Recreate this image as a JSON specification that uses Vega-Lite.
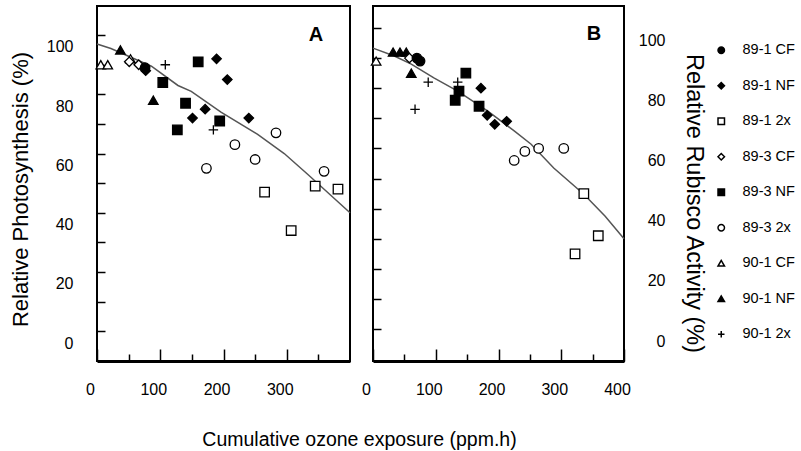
{
  "$schema": "https://vega.github.io/schema/vega-lite/v6.json",
  "padding": {"left": 8, "top": 5, "right": 0, "bottom": 0},
  "background": "white",
  "config": {
    "view": {"stroke": "black", "strokeWidth": 2},
    "font": "Liberation Sans",
    "axis": {"grid": false, "labelColor": "black", "titleColor": "black", "tickColor": "black", "domainColor": "black", "titleFontWeight": "normal"}
  },
  "datasets": {
    "pointsA": [
      {"x": 6, "y": 94, "series": "90-1 CF"}, {"x": 17, "y": 94, "series": "90-1 CF"}, {"x": 53, "y": 96, "series": "90-1 CF"},
      {"x": 37, "y": 99, "series": "90-1 NF"}, {"x": 89, "y": 82, "series": "90-1 NF"},
      {"x": 51, "y": 95, "series": "89-3 CF"}, {"x": 66, "y": 94, "series": "89-3 CF"},
      {"x": 76, "y": 93, "series": "89-1 CF"},
      {"x": 77, "y": 92, "series": "89-1 NF"}, {"x": 189, "y": 96, "series": "89-1 NF"}, {"x": 206, "y": 89, "series": "89-1 NF"}, {"x": 171, "y": 79, "series": "89-1 NF"}, {"x": 151, "y": 76, "series": "89-1 NF"}, {"x": 240, "y": 76, "series": "89-1 NF"},
      {"x": 108, "y": 94, "series": "90-1 2x"}, {"x": 184, "y": 72, "series": "90-1 2x"},
      {"x": 104, "y": 88, "series": "89-3 NF"}, {"x": 160, "y": 95, "series": "89-3 NF"}, {"x": 140, "y": 81, "series": "89-3 NF"}, {"x": 127, "y": 72, "series": "89-3 NF"}, {"x": 194, "y": 75, "series": "89-3 NF"},
      {"x": 173, "y": 59, "series": "89-3 2x"}, {"x": 218, "y": 67, "series": "89-3 2x"}, {"x": 250, "y": 62, "series": "89-3 2x"}, {"x": 283, "y": 71, "series": "89-3 2x"}, {"x": 359, "y": 58, "series": "89-3 2x"},
      {"x": 265, "y": 51, "series": "89-1 2x"}, {"x": 307, "y": 38, "series": "89-1 2x"}, {"x": 345, "y": 53, "series": "89-1 2x"}, {"x": 381, "y": 52, "series": "89-1 2x"}
    ],
    "pointsB": [
      {"x": 5, "y": 93, "series": "90-1 CF"},
      {"x": 32, "y": 96, "series": "90-1 NF"}, {"x": 43, "y": 96, "series": "90-1 NF"}, {"x": 53, "y": 96, "series": "90-1 NF"}, {"x": 61, "y": 89, "series": "90-1 NF"},
      {"x": 58, "y": 94, "series": "89-3 CF"},
      {"x": 70, "y": 94, "series": "89-1 CF"}, {"x": 75, "y": 93, "series": "89-1 CF"},
      {"x": 88, "y": 86, "series": "90-1 2x"}, {"x": 67, "y": 77, "series": "90-1 2x"}, {"x": 135, "y": 86, "series": "90-1 2x"},
      {"x": 148, "y": 89, "series": "89-3 NF"}, {"x": 137, "y": 83, "series": "89-3 NF"}, {"x": 131, "y": 80, "series": "89-3 NF"}, {"x": 169, "y": 78, "series": "89-3 NF"},
      {"x": 172, "y": 84, "series": "89-1 NF"}, {"x": 182, "y": 75, "series": "89-1 NF"}, {"x": 194, "y": 72, "series": "89-1 NF"}, {"x": 213, "y": 73, "series": "89-1 NF"},
      {"x": 225, "y": 60, "series": "89-3 2x"}, {"x": 242, "y": 63, "series": "89-3 2x"}, {"x": 264, "y": 64, "series": "89-3 2x"}, {"x": 304, "y": 64, "series": "89-3 2x"},
      {"x": 336, "y": 49, "series": "89-1 2x"}, {"x": 322, "y": 29, "series": "89-1 2x"}, {"x": 359, "y": 35, "series": "89-1 2x"}
    ],
    "fitA": [
      {"x": 0, "y": 101}, {"x": 22, "y": 99.5}, {"x": 86, "y": 93.5}, {"x": 128, "y": 87}, {"x": 149, "y": 85},
      {"x": 196, "y": 78}, {"x": 254, "y": 70.5}, {"x": 296, "y": 64}, {"x": 333, "y": 57}, {"x": 400, "y": 44}
    ],
    "fitB": [
      {"x": 0, "y": 97.3}, {"x": 34, "y": 94.7}, {"x": 61, "y": 92}, {"x": 97, "y": 87.4}, {"x": 135, "y": 83},
      {"x": 183, "y": 76.4}, {"x": 225, "y": 69.8}, {"x": 252, "y": 65.4}, {"x": 288, "y": 57.5}, {"x": 336, "y": 48.8},
      {"x": 370, "y": 41.5}, {"x": 400, "y": 34}
    ]
  },
  "spacing": 23,
  "bounds": "flush",
  "resolve": {"scale": {"shape": "independent", "fill": "independent"}},
  "hconcat": [
    {
      "width": 253,
      "height": 355,
      "layer": [
        {
          "layer": [
            {
              "data": {"name": "fitA"},
              "mark": {"type": "line", "color": "#555555", "strokeWidth": 1.5},
              "encoding": {
                "x": {"field": "x", "type": "quantitative", "scale": {"domain": [0, 400], "nice": false},
                  "axis": {"values": [0, 100, 200, 300], "tickSize": -12, "tickWidth": 1.5, "labelPadding": 32, "labelOffset": -7, "labelFlush": false, "labelFontSize": 16, "domain": true, "domainWidth": 3,
                    "title": "Cumulative ozone exposure (ppm.h)", "titleFontSize": 19.5, "titleX": 262, "titleY": 78, "titleBaseline": "middle"}},
                "y": {"field": "y", "type": "quantitative", "scale": {"domain": [-6.08, 113.85], "nice": false, "zero": false},
                  "axis": {"orient": "left", "values": [0, 20, 40, 60, 80, 100], "ticks": false, "domain": false, "labelPadding": 24, "labelFontSize": 16,
                    "title": "Relative Photosynthesis (%)", "titleFontSize": 22, "titleAngle": 270, "titleX": -77, "titleY": 183, "titleBaseline": "middle"}}
              }
            },
            {
              "data": {"name": "pointsA"},
              "mark": {"type": "point", "filled": true, "stroke": "black", "strokeWidth": 1.3, "size": 90, "opacity": 1, "fillOpacity": 1},
              "encoding": {
                "x": {"field": "x", "type": "quantitative"},
                "y": {"field": "y", "type": "quantitative"},
                "shape": {"field": "series", "type": "nominal", "legend": null,
                  "scale": {"domain": ["89-1 CF", "89-1 NF", "89-1 2x", "89-3 CF", "89-3 NF", "89-3 2x", "90-1 CF", "90-1 NF", "90-1 2x"],
                    "range": ["circle", "diamond", "square", "diamond", "square", "circle", "triangle-up", "triangle-up", "M-1,0H1M0,-1V1"]}},
                "fill": {"field": "series", "type": "nominal", "legend": null,
                  "scale": {"domain": ["89-1 CF", "89-1 NF", "89-1 2x", "89-3 CF", "89-3 NF", "89-3 2x", "90-1 CF", "90-1 NF", "90-1 2x"],
                    "range": ["black", "black", "white", "white", "black", "white", "white", "black", "black"]}}
              }
            },
            {
              "data": {"values": [{}]},
              "mark": {"type": "text", "text": "A", "fontSize": 20, "fontWeight": "bold", "color": "black"},
              "encoding": {"x": {"datum": 346, "type": "quantitative"}, "y": {"datum": 104, "type": "quantitative"}}
            }
          ]
        },
        {
          "data": {"values": [{}]},
          "mark": {"type": "point", "opacity": 0},
          "encoding": {
            "x": {"datum": 0, "type": "quantitative", "scale": {"domain": [0, 400], "nice": false},
              "axis": {"orient": "bottom", "values": [50, 150, 250, 350], "tickSize": -7, "tickWidth": 1.5, "labels": false, "domain": false, "title": null}},
            "y": {"datum": 0, "type": "quantitative", "scale": {"domain": [-6.08, 113.85], "nice": false, "zero": false},
              "axis": {"orient": "left", "values": [4, 14, 24, 34, 44, 54, 64, 74, 84, 94, 104], "tickSize": -8, "tickWidth": 1.5, "labels": false, "domain": false, "title": null}}
          }
        }
      ],
      "resolve": {"scale": {"x": "independent", "y": "independent"}, "axis": {"x": "independent", "y": "independent"}}
    },
    {
      "width": 251,
      "height": 355,
      "layer": [
        {
          "layer": [
            {
              "data": {"name": "fitB"},
              "mark": {"type": "line", "color": "#555555", "strokeWidth": 1.5},
              "encoding": {
                "x": {"field": "x", "type": "quantitative", "scale": {"domain": [0, 400], "nice": false},
                  "axis": {"values": [0, 100, 200, 300, 400], "tickSize": -12, "tickWidth": 1.5, "labelPadding": 32, "labelOffset": -7, "labelFlush": false, "labelFontSize": 16, "domain": true, "domainWidth": 3, "title": null}},
                "y": {"field": "y", "type": "quantitative", "scale": {"domain": [-6.6, 111.3], "nice": false, "zero": false},
                  "axis": {"orient": "right", "values": [0, 20, 40, 60, 80, 100], "ticks": false, "domain": false, "labelPadding": 41, "labelAlign": "right", "labelFontSize": 16,
                    "title": "Relative Rubisco Activity (%)", "titleFontSize": 23.5, "titleAngle": 90, "titleX": 69, "titleY": 197, "titleBaseline": "middle"}}
              }
            },
            {
              "data": {"name": "pointsB"},
              "mark": {"type": "point", "filled": true, "stroke": "black", "strokeWidth": 1.3, "size": 90, "opacity": 1, "fillOpacity": 1},
              "encoding": {
                "x": {"field": "x", "type": "quantitative"},
                "y": {"field": "y", "type": "quantitative"},
                "shape": {"field": "series", "type": "nominal",
                  "scale": {"domain": ["89-1 CF", "89-1 NF", "89-1 2x", "89-3 CF", "89-3 NF", "89-3 2x", "90-1 CF", "90-1 NF", "90-1 2x"],
                    "range": ["circle", "diamond", "square", "diamond", "square", "circle", "triangle-up", "triangle-up", "M-1,0H1M0,-1V1"]},
                  "legend": {"orient": "none", "legendX": 341, "legendY": 37, "title": null, "padding": 0, "symbolSize": 42,
                    "labelFont": "Liberation Sans", "labelFontSize": 14.5, "labelColor": "black", "labelOffset": 14, "rowPadding": 20.5,
                    "encode": {"symbols": {"update": {"stroke": {"value": "black"}, "strokeWidth": {"value": 1.2}}}}}},
                "fill": {"field": "series", "type": "nominal",
                  "scale": {"domain": ["89-1 CF", "89-1 NF", "89-1 2x", "89-3 CF", "89-3 NF", "89-3 2x", "90-1 CF", "90-1 NF", "90-1 2x"],
                    "range": ["black", "black", "white", "white", "black", "white", "white", "black", "black"]},
                  "legend": {"orient": "none", "legendX": 341, "legendY": 37, "title": null, "padding": 0, "symbolSize": 42,
                    "labelFont": "Liberation Sans", "labelFontSize": 14.5, "labelColor": "black", "labelOffset": 14, "rowPadding": 20.5,
                    "encode": {"symbols": {"update": {"stroke": {"value": "black"}, "strokeWidth": {"value": 1.2}}}}}}
              }
            },
            {
              "data": {"values": [{}]},
              "mark": {"type": "text", "text": "B", "fontSize": 20, "fontWeight": "bold", "color": "black"},
              "encoding": {"x": {"datum": 352, "type": "quantitative"}, "y": {"datum": 102, "type": "quantitative"}}
            }
          ]
        },
        {
          "data": {"values": [{}]},
          "mark": {"type": "point", "opacity": 0},
          "encoding": {
            "x": {"datum": 0, "type": "quantitative", "scale": {"domain": [0, 400], "nice": false},
              "axis": {"orient": "bottom", "values": [50, 150, 250, 350], "tickSize": -7, "tickWidth": 1.5, "labels": false, "domain": false, "title": null}},
            "y": {"datum": 0, "type": "quantitative", "scale": {"domain": [-6.6, 111.3], "nice": false, "zero": false},
              "axis": {"orient": "left", "values": [4, 14, 24, 34, 44, 54, 64, 74, 84, 94, 104], "tickSize": -8, "tickWidth": 1.5, "labels": false, "domain": false, "title": null}}
          }
        }
      ],
      "resolve": {"scale": {"x": "independent", "y": "independent"}, "axis": {"x": "independent", "y": "independent"}}
    }
  ]
}
